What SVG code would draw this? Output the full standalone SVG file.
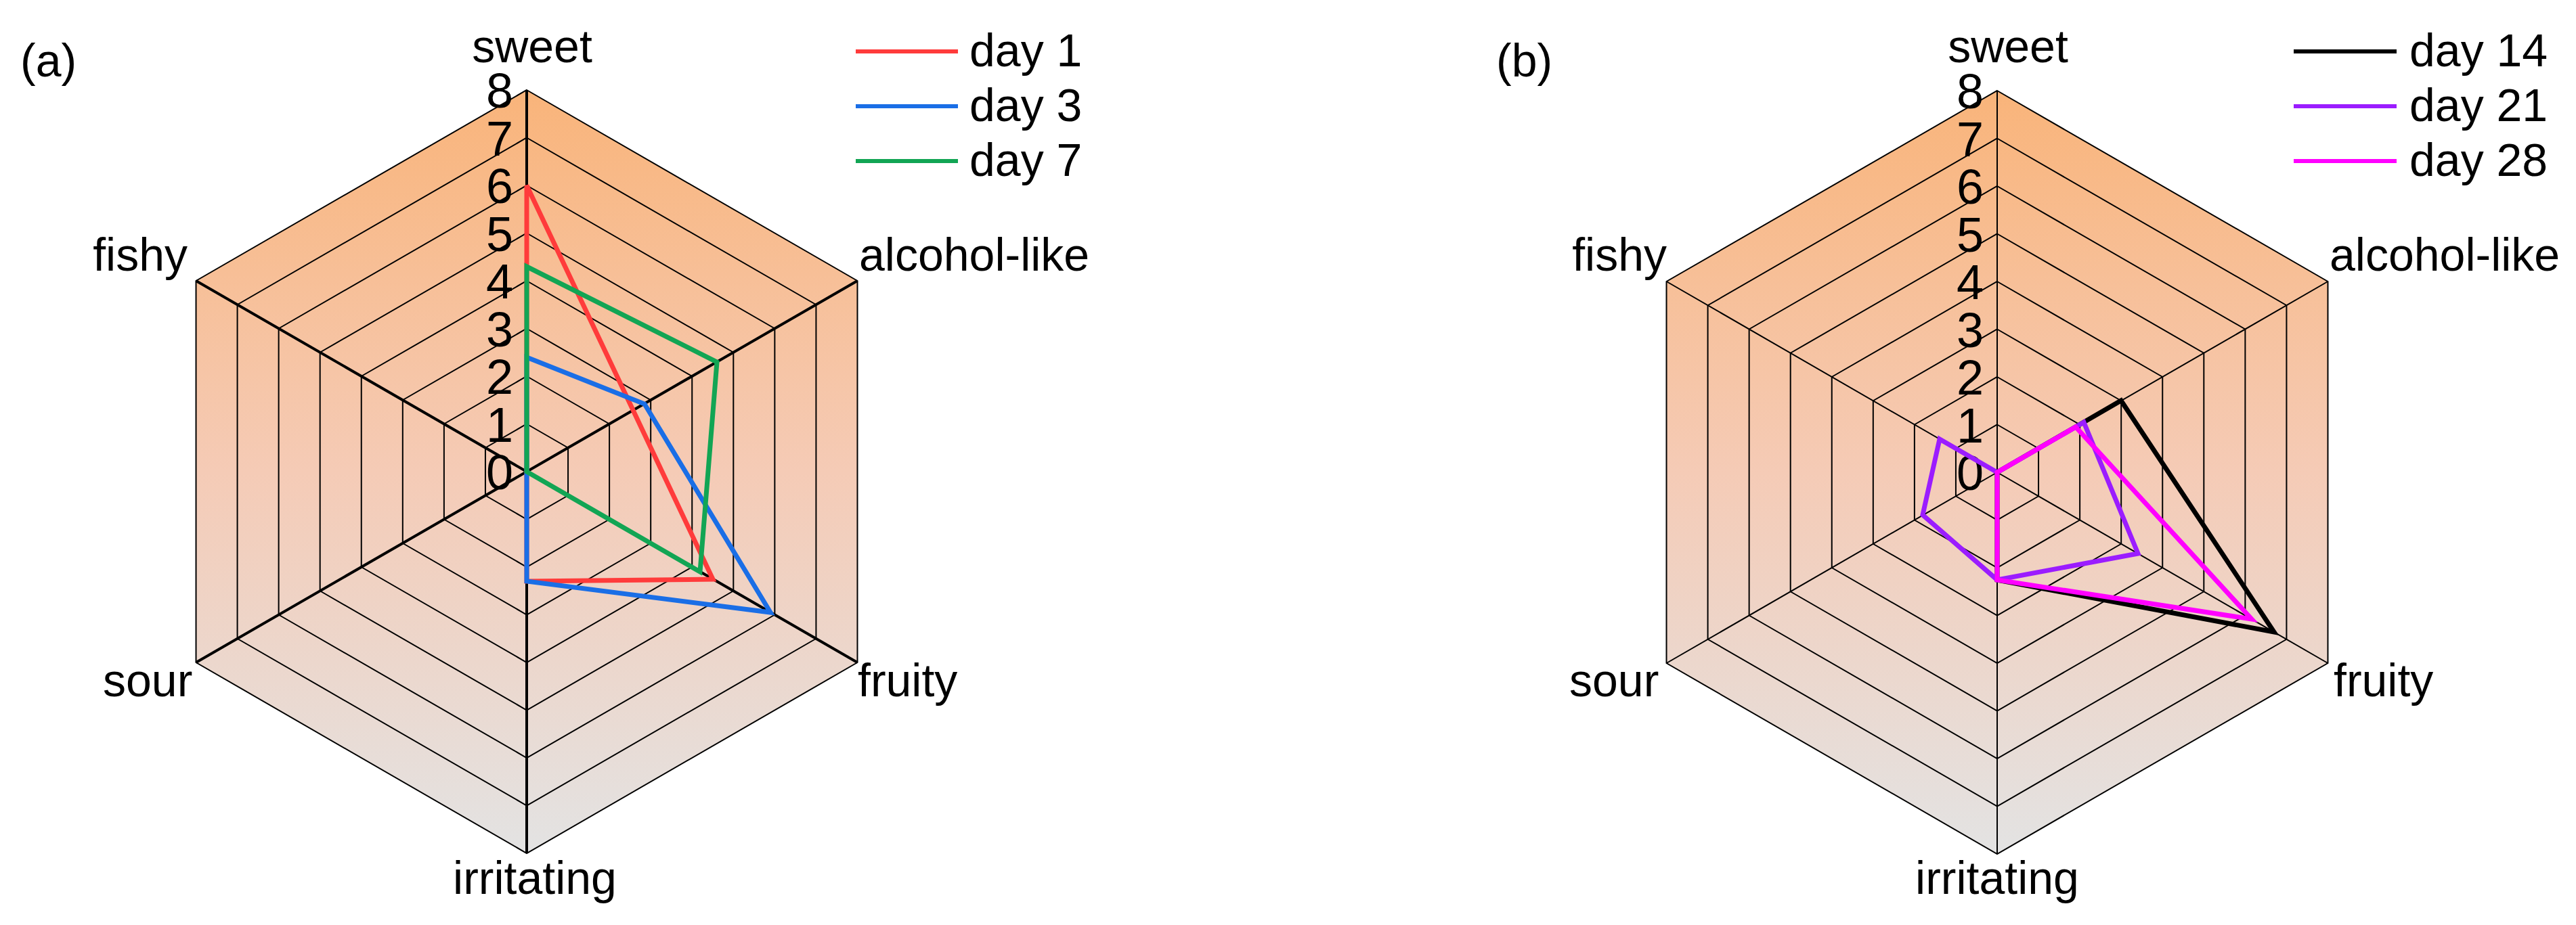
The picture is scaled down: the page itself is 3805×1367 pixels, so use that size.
<svg xmlns="http://www.w3.org/2000/svg" xmlns:xlink="http://www.w3.org/1999/xlink" width="3805" height="1367" viewBox="0 0 3805 1367">
<style>
text{font-family:"Liberation Sans",Arial,sans-serif;fill:#000}
.ax{font-size:68px}
.num{font-size:72px;text-anchor:end}
.ring{fill:none;stroke:#000;stroke-width:2}
.d{fill:none;stroke-width:7;stroke-linejoin:miter}
</style>
<defs>
<linearGradient id="g" x1="0" y1="0" x2="0" y2="1">
<stop offset="0" stop-color="#f9b47a"/>
<stop offset="0.5" stop-color="#f5cbb6"/>
<stop offset="1" stop-color="#e3e3e3"/>
</linearGradient>
<polygon id="hx" points="0,-70.5 61.06,-35.25 61.06,35.25 0,70.5 -61.06,35.25 -61.06,-35.25" class="ring" vector-effect="non-scaling-stroke"/>
<g id="grid">
<polygon points="0,-564 488.4,-282 488.4,282 0,564 -488.4,282 -488.4,-282" fill="url(#g)"/>
<use xlink:href="#hx" transform="scale(1)"/>
<use xlink:href="#hx" transform="scale(2)"/>
<use xlink:href="#hx" transform="scale(3)"/>
<use xlink:href="#hx" transform="scale(4)"/>
<use xlink:href="#hx" transform="scale(5)"/>
<use xlink:href="#hx" transform="scale(6)"/>
<use xlink:href="#hx" transform="scale(7)"/>
<use xlink:href="#hx" transform="scale(8)"/>
</g>
<g id="nums">
<text class="num" x="-20" y="26">0</text>
<text class="num" x="-20" y="-44">1</text>
<text class="num" x="-20" y="-115">2</text>
<text class="num" x="-20" y="-185">3</text>
<text class="num" x="-20" y="-256">4</text>
<text class="num" x="-20" y="-326">5</text>
<text class="num" x="-20" y="-397">6</text>
<text class="num" x="-20" y="-467">7</text>
<text class="num" x="-20" y="-538">8</text>
</g>
</defs>

<g id="chart-a">
<g transform="translate(778,697)">
<use xlink:href="#grid"/>
<g stroke="#000" stroke-width="4">
<line x1="0" y1="0" x2="0" y2="-564"/><line x1="0" y1="0" x2="488.4" y2="-282"/><line x1="0" y1="0" x2="488.4" y2="282"/>
<line x1="0" y1="0" x2="0" y2="564"/><line x1="0" y1="0" x2="-488.4" y2="282"/><line x1="0" y1="0" x2="-488.4" y2="-282"/>
</g>
<use xlink:href="#nums"/>
<g id="series-a">
<polygon class="d" stroke="#ff3b3b" points="0,-423 157,-91 275,159 0,162 0,0 0,0"/>
<polygon class="d" stroke="#1a6ee6" points="0,-169 174,-100 360,208 0,162 0,0 0,0"/>
<polygon class="d" stroke="#12a554" points="0,-303 281,-162 256,148 0,0 0,0 0,0"/>
</g>
</g>
<text class="ax" x="786" y="92" text-anchor="middle">sweet</text>
<text class="ax" x="1269" y="400">alcohol-like</text>
<text class="ax" x="277" y="400" text-anchor="end">fishy</text>
<text class="ax" x="152" y="1029">sour</text>
<text class="ax" x="1267" y="1029">fruity</text>
<text class="ax" x="790" y="1321" text-anchor="middle">irritating</text>
<text class="ax" x="30" y="113">(a)</text>
<g id="legend-a">
<line x1="1264" y1="76" x2="1415" y2="76" stroke="#ff3b3b" stroke-width="6"/>
<line x1="1264" y1="157" x2="1415" y2="157" stroke="#1a6ee6" stroke-width="6"/>
<line x1="1264" y1="238" x2="1415" y2="238" stroke="#12a554" stroke-width="6"/>
<text class="ax" x="1432" y="98">day 1</text>
<text class="ax" x="1432" y="179">day 3</text>
<text class="ax" x="1432" y="260">day 7</text>
</g>
</g>

<g id="chart-b">
<g transform="translate(2950,698)">
<use xlink:href="#grid"/>
<g stroke="#000" stroke-width="2">
<line x1="0" y1="0" x2="0" y2="-564"/><line x1="0" y1="0" x2="488.4" y2="-282"/><line x1="0" y1="0" x2="488.4" y2="282"/>
<line x1="0" y1="0" x2="0" y2="564"/><line x1="0" y1="0" x2="-488.4" y2="282"/><line x1="0" y1="0" x2="-488.4" y2="-282"/>
</g>
<use xlink:href="#nums"/>
<g id="series-b">
<polygon class="d" stroke="#000" points="0,0 183,-106 409,236 0,159 0,0 0,0"/>
<polygon class="d" stroke="#9b1cff" points="0,0 128,-74 208,120 0,159 -110,63 -85,-49"/>
<polygon class="d" stroke="#ff00ff" points="0,0 116,-67 376,217 0,159 0,0 0,0"/>
</g>
</g>
<text class="ax" x="2966" y="92" text-anchor="middle">sweet</text>
<text class="ax" x="3441" y="400">alcohol-like</text>
<text class="ax" x="2462" y="400" text-anchor="end">fishy</text>
<text class="ax" x="2318" y="1029">sour</text>
<text class="ax" x="3447" y="1029">fruity</text>
<text class="ax" x="2950" y="1321" text-anchor="middle">irritating</text>
<text class="ax" x="2210" y="113">(b)</text>
<g id="legend-b">
<line x1="3388" y1="76" x2="3540" y2="76" stroke="#000" stroke-width="6"/>
<line x1="3388" y1="157" x2="3540" y2="157" stroke="#9b1cff" stroke-width="6"/>
<line x1="3388" y1="238" x2="3540" y2="238" stroke="#ff00ff" stroke-width="6"/>
<text class="ax" x="3559" y="98">day 14</text>
<text class="ax" x="3559" y="179">day 21</text>
<text class="ax" x="3559" y="260">day 28</text>
</g>
</g>
</svg>
